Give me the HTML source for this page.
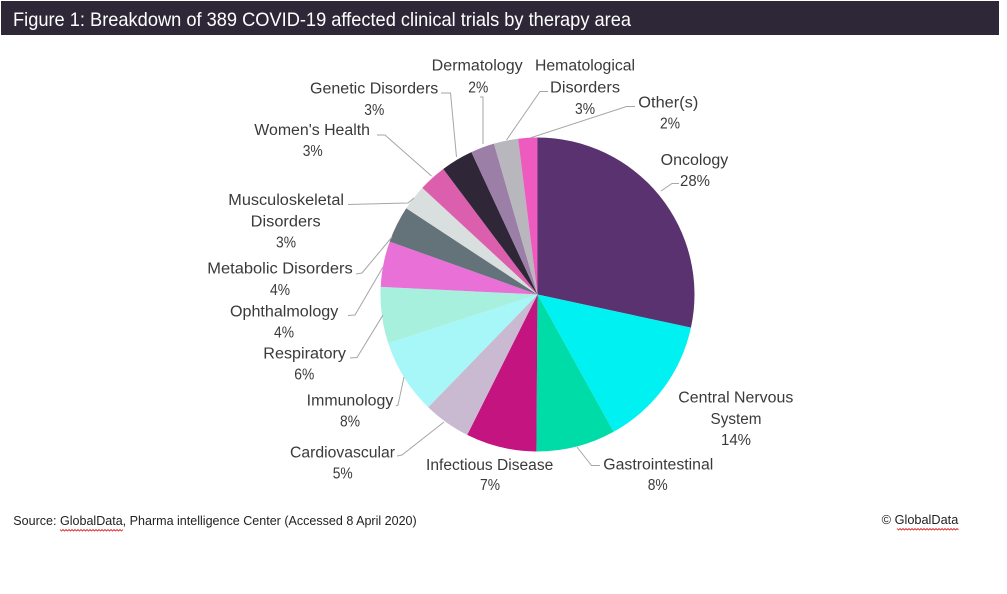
<!DOCTYPE html>
<html>
<head>
<meta charset="utf-8">
<style>
html,body{margin:0;padding:0;background:#fff;}
body{width:1007px;height:594px;overflow:hidden;}
svg{display:block;}
.lb{font-family:"Liberation Sans",Arial,sans-serif;font-size:15.5px;fill:#3a3a3a;}
.ft{font-family:"Liberation Sans",Arial,sans-serif;font-size:12.5px;fill:#222;}
.ld{fill:none;stroke:#a6a6a6;stroke-width:1;}
</style>
</head>
<body>
<svg width="1007" height="594" viewBox="0 0 1007 594" xmlns="http://www.w3.org/2000/svg">
  <rect x="0" y="0" width="1007" height="594" fill="#ffffff"/>
  <!-- title bar -->
  <rect x="1" y="1" width="998" height="34" fill="#2d2738"/>
  <text x="13" y="26" font-family="Liberation Sans, Arial, sans-serif" font-size="19.5" fill="#ffffff" textLength="618" lengthAdjust="spacingAndGlyphs">Figure 1: Breakdown of 389 COVID-19 affected clinical trials by therapy area</text>

  <!-- pie slices -->
  <g stroke="none">
    <path d="M537.5,294.5 L537.5,137.5 A157,157 0 0,1 690.95,327.68 Z" fill="#5a3270"/>
    <path d="M537.5,294.5 L690.95,327.68 A157,157 0 0,1 613.61,431.81 Z" fill="#00f1f1"/>
    <path d="M537.5,294.5 L613.61,431.81 A157,157 0 0,1 536.40,451.50 Z" fill="#00dca8"/>
    <path d="M537.5,294.5 L536.40,451.50 A157,157 0 0,1 467.20,434.89 Z" fill="#c3147f"/>
    <path d="M537.5,294.5 L467.20,434.89 A157,157 0 0,1 428.24,407.24 Z" fill="#c9b9d1"/>
    <path d="M537.5,294.5 L428.24,407.24 A157,157 0 0,1 388.27,343.28 Z" fill="#a7f6f8"/>
    <path d="M537.5,294.5 L388.27,343.28 A157,157 0 0,1 380.69,286.83 Z" fill="#a7f0de"/>
    <path d="M537.5,294.5 L380.69,286.83 A157,157 0 0,1 389.68,241.58 Z" fill="#e870d7"/>
    <path d="M537.5,294.5 L389.68,241.58 A157,157 0 0,1 406.28,208.31 Z" fill="#64727a"/>
    <path d="M537.5,294.5 L406.28,208.31 A157,157 0 0,1 422.31,187.83 Z" fill="#d9dedf"/>
    <path d="M537.5,294.5 L422.31,187.83 A157,157 0 0,1 443.24,168.95 Z" fill="#dc5fae"/>
    <path d="M537.5,294.5 L443.24,168.95 A157,157 0 0,1 471.40,152.10 Z" fill="#2f2738"/>
    <path d="M537.5,294.5 L471.40,152.10 A157,157 0 0,1 493.96,143.65 Z" fill="#9b7fa6"/>
    <path d="M537.5,294.5 L493.96,143.65 A157,157 0 0,1 518.09,138.71 Z" fill="#b8b7bd"/>
    <path d="M537.5,294.5 L518.09,138.71 A157,157 0 0,1 537.5,137.5 Z" fill="#ee5bbe"/>
  </g>

  <!-- leader lines -->
  <polyline class="ld" points="661,191 672,183.5 679,183.5"/>
  <polyline class="ld" points="530,138 626.5,106.5 635,106.5"/>
  <polyline class="ld" points="506.5,140 540,91.5 548,91.5"/>
  <polyline class="ld" points="483,144 483,97 480,97"/>
  <polyline class="ld" points="456.5,157 450.5,93 441,93"/>
  <polyline class="ld" points="431.5,176 385,135 377,135"/>
  <polyline class="ld" points="348,204.5 408,203 414,198"/>
  <polyline class="ld" points="356,274 362,273 392,237"/>
  <polyline class="ld" points="348,315.5 355,315 383,267"/>
  <polyline class="ld" points="350,358 357,357.5 383,315"/>
  <polyline class="ld" points="396,406 398,405 404,377"/>
  <polyline class="ld" points="397,456 402,455 444,422"/>
  <polyline class="ld" points="577,447 591.5,465.5 600,465.5"/>

  <!-- labels -->
  <text class="lb" x="660.7" y="165" textLength="67.6" lengthAdjust="spacingAndGlyphs">Oncology</text>
  <text class="lb" x="695" y="186" text-anchor="middle" textLength="30" lengthAdjust="spacingAndGlyphs">28%</text>

  <text class="lb" x="638.3" y="107.3" textLength="60" lengthAdjust="spacingAndGlyphs">Other(s)</text>
  <text class="lb" x="670" y="128.3" text-anchor="middle" textLength="20" lengthAdjust="spacingAndGlyphs">2%</text>

  <text class="lb" x="535" y="70.7" textLength="100" lengthAdjust="spacingAndGlyphs">Hematological</text>
  <text class="lb" x="550" y="92.3" textLength="70" lengthAdjust="spacingAndGlyphs">Disorders</text>
  <text class="lb" x="585" y="114" text-anchor="middle" textLength="20" lengthAdjust="spacingAndGlyphs">3%</text>

  <text class="lb" x="431.7" y="70.7" textLength="91" lengthAdjust="spacingAndGlyphs">Dermatology</text>
  <text class="lb" x="478.3" y="92.3" text-anchor="middle" textLength="20" lengthAdjust="spacingAndGlyphs">2%</text>

  <text class="lb" x="310" y="93.3" textLength="128.3" lengthAdjust="spacingAndGlyphs">Genetic Disorders</text>
  <text class="lb" x="374.3" y="115" text-anchor="middle" textLength="20" lengthAdjust="spacingAndGlyphs">3%</text>

  <text class="lb" x="254.3" y="135" textLength="115.7" lengthAdjust="spacingAndGlyphs">Women's Health</text>
  <text class="lb" x="312.7" y="156" text-anchor="middle" textLength="20" lengthAdjust="spacingAndGlyphs">3%</text>

  <text class="lb" x="228.3" y="205" textLength="115.7" lengthAdjust="spacingAndGlyphs">Musculoskeletal</text>
  <text class="lb" x="285.7" y="226.7" text-anchor="middle" textLength="70" lengthAdjust="spacingAndGlyphs">Disorders</text>
  <text class="lb" x="286" y="247.3" text-anchor="middle" textLength="20" lengthAdjust="spacingAndGlyphs">3%</text>

  <text class="lb" x="207.3" y="273.3" textLength="145.4" lengthAdjust="spacingAndGlyphs">Metabolic Disorders</text>
  <text class="lb" x="280" y="295" text-anchor="middle" textLength="20" lengthAdjust="spacingAndGlyphs">4%</text>

  <text class="lb" x="230" y="316.7" textLength="108.3" lengthAdjust="spacingAndGlyphs">Ophthalmology</text>
  <text class="lb" x="284" y="337.3" text-anchor="middle" textLength="20" lengthAdjust="spacingAndGlyphs">4%</text>

  <text class="lb" x="263.3" y="358.3" textLength="82.7" lengthAdjust="spacingAndGlyphs">Respiratory</text>
  <text class="lb" x="304.3" y="379.3" text-anchor="middle" textLength="20" lengthAdjust="spacingAndGlyphs">6%</text>

  <text class="lb" x="306.7" y="405.7" textLength="86.6" lengthAdjust="spacingAndGlyphs">Immunology</text>
  <text class="lb" x="350" y="426.7" text-anchor="middle" textLength="20" lengthAdjust="spacingAndGlyphs">8%</text>

  <text class="lb" x="290" y="457.3" textLength="105" lengthAdjust="spacingAndGlyphs">Cardiovascular</text>
  <text class="lb" x="342.7" y="478.3" text-anchor="middle" textLength="20" lengthAdjust="spacingAndGlyphs">5%</text>

  <text class="lb" x="426" y="470" textLength="127.3" lengthAdjust="spacingAndGlyphs">Infectious Disease</text>
  <text class="lb" x="490" y="490" text-anchor="middle" textLength="20" lengthAdjust="spacingAndGlyphs">7%</text>

  <text class="lb" x="603.3" y="469.3" textLength="110" lengthAdjust="spacingAndGlyphs">Gastrointestinal</text>
  <text class="lb" x="657.7" y="490" text-anchor="middle" textLength="20" lengthAdjust="spacingAndGlyphs">8%</text>

  <text class="lb" x="678.3" y="402.3" textLength="115" lengthAdjust="spacingAndGlyphs">Central Nervous</text>
  <text class="lb" x="736" y="424" text-anchor="middle" textLength="51" lengthAdjust="spacingAndGlyphs">System</text>
  <text class="lb" x="736" y="445" text-anchor="middle" textLength="30" lengthAdjust="spacingAndGlyphs">14%</text>

  <!-- footer -->
  <text class="ft" x="13.3" y="525" textLength="403.4" lengthAdjust="spacingAndGlyphs">Source: GlobalData, Pharma intelligence Center (Accessed 8 April 2020)</text>
  <polyline fill="none" stroke="#e02020" stroke-width="0.8" points="60,529.5 61.5,531 63,529.5 64.5,531 66,529.5 67.5,531 69,529.5 70.5,531 72,529.5 73.5,531 75,529.5 76.5,531 78,529.5 79.5,531 81,529.5 82.5,531 84,529.5 85.5,531 87,529.5 88.5,531 90,529.5 91.5,531 93,529.5 94.5,531 96,529.5 97.5,531 99,529.5 100.5,531 102,529.5 103.5,531 105,529.5 106.5,531 108,529.5 109.5,531 111,529.5 112.5,531 114,529.5 115.5,531 117,529.5 118.5,531 120,529.5 121.5,531 123,529.5"/>
  <text class="ft" x="881.7" y="524" textLength="76.6" lengthAdjust="spacingAndGlyphs">© GlobalData</text>
  <polyline fill="none" stroke="#e02020" stroke-width="0.8" points="897,528.5 898.5,530 900,528.5 901.5,530 903,528.5 904.5,530 906,528.5 907.5,530 909,528.5 910.5,530 912,528.5 913.5,530 915,528.5 916.5,530 918,528.5 919.5,530 921,528.5 922.5,530 924,528.5 925.5,530 927,528.5 928.5,530 930,528.5 931.5,530 933,528.5 934.5,530 936,528.5 937.5,530 939,528.5 940.5,530 942,528.5 943.5,530 945,528.5 946.5,530 948,528.5 949.5,530 951,528.5 952.5,530 954,528.5 955.5,530 957,528.5 958.5,530"/>
</svg>
</body>
</html>
